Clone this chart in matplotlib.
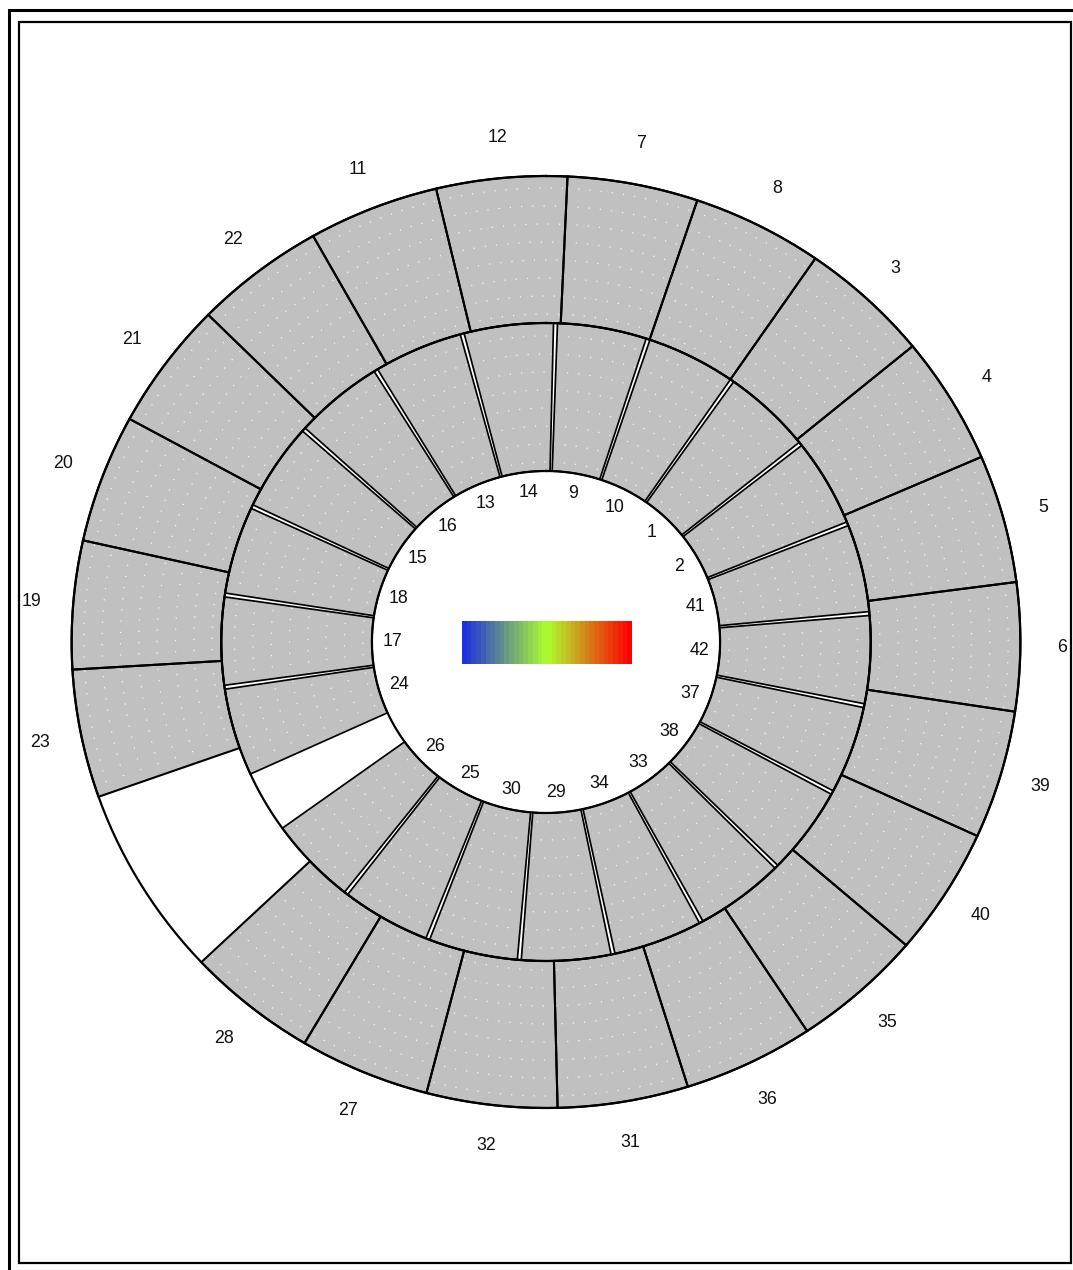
import numpy as np
import matplotlib.pyplot as plt
from matplotlib.patches import Rectangle
from matplotlib.colors import LinearSegmentedColormap

plt.rcParams['font.family'] = ['Liberation Sans', 'DejaVu Sans']

# segment ids, clockwise, first one right after the gap
outer_ids = [23, 19, 20, 21, 22, 11, 12, 7, 8, 3, 4, 5, 6, 39, 40, 35, 36, 31, 32, 27, 28]
inner_ids = [24, 17, 18, 15, 16, 13, 14, 9, 10, 1, 2, 41, 42, 37, 38, 33, 34, 29, 30, 25, 26]
# start angle (deg, clockwise from top) and angular step of each ring
outer_start, outer_step = 250.6, 16.0
inner_start, inner_step = 245.2, 16.64
# colour scale shown in the middle
cbar_colors = ['#1f30de', '#adff2f', '#ff0000']
cbar_steps = 36

# ring radii
r_hole, r_mid, r_out, r_max = 171, 319, 466, 480
grey = '#c0c0c0'

W, H = 1073, 1270
fig = plt.figure(figsize=(W / 100, H / 100), dpi=100)

# plot box, a bit wider than tall like the original
cx, cy = 546, 642
sx = 1.018
hw, hh = r_max * sx, r_max
ax = fig.add_axes([(cx - hw) / W, (H - cy - hh) / H, 2 * hw / W, 2 * hh / H], projection='polar')
ax.set_aspect('auto')
ax.set_theta_zero_location('N')
ax.set_theta_direction(-1)
ax.set_ylim(0, r_max)
ax.axis('off')


def ring(ids, start, step, bottom, top, gap, lw, lab_r):
    n = len(ids)
    th = np.deg2rad(start + step * (np.arange(n) + 0.5))
    w = np.deg2rad(step - gap)
    # fill
    ax.bar(th, top - bottom, width=w, bottom=bottom, color=grey, edgecolor='none', zorder=1)
    # faint dotted texture
    for i in range(n):
        a = np.linspace(th[i] - w / 2, th[i] + w / 2, 60)
        for rr in np.arange(bottom + 9, top, 18):
            ax.plot(a, np.full_like(a, rr), color='white', lw=0.9, alpha=0.8,
                    dashes=(1, 8), zorder=1.5)
    # edges
    ax.bar(th, top - bottom, width=w, bottom=bottom, color='none', edgecolor='black',
           linewidth=lw, zorder=2)
    for t, s in zip(th, ids):
        ax.text(t, lab_r, str(s), ha='center', va='center', fontsize=12.8, color='#111111')


ring(outer_ids, outer_start, outer_step, r_mid, r_out, 0.0, 1.5, 507)
ring(inner_ids, inner_start, inner_step, r_hole, r_mid, 0.7, 1.25, 151)

circ = np.linspace(0, 2 * np.pi, 720)
for rr in (r_hole, r_mid, r_out):
    ax.plot(circ, np.full_like(circ, rr), color='black', lw=1.6, zorder=3)

# colour bar in the hole
cax = fig.add_axes([462 / W, 1 - 664 / H, 170 / W, 43 / H])
cmap = LinearSegmentedColormap.from_list('scale', cbar_colors, N=cbar_steps)
cax.imshow(np.linspace(0, 1, cbar_steps)[None, :], cmap=cmap, aspect='auto')
cax.axis('off')

# double frame
fig.add_artist(Rectangle((9 / W, -0.1), 1.2, 1 - 10 / H + 0.1, transform=fig.transFigure,
                         fill=False, ec='black', lw=2.2))
fig.add_artist(Rectangle((19 / W, 1 - 1263 / H), (1071 - 19) / W, (1263 - 22) / H,
                         transform=fig.transFigure, fill=False, ec='black', lw=1.6))

fig.savefig('out.png', dpi=100, facecolor='white')
